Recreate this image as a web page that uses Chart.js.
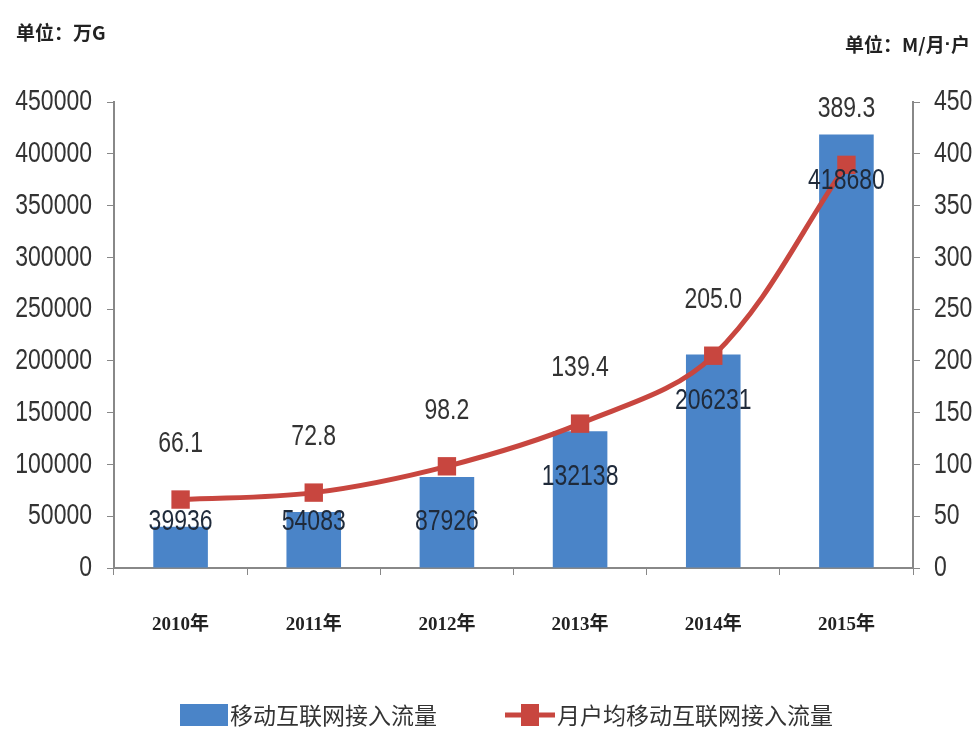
<!DOCTYPE html>
<html>
<head>
<meta charset="utf-8">
<script src="https://cdn.jsdelivr.net/npm/chart.js@4.4.0/dist/chart.umd.min.js"></script>
<style>
  html, body { margin: 0; padding: 0; background: #fff; }
  #wrap { width: 975px; height: 734px; }
</style>
</head>
<body>
<div id="wrap"><canvas id="chart" width="975" height="734"></canvas></div>
<script>
const years = ["2010年", "2011年", "2012年", "2013年", "2014年", "2015年"];
const traffic = [39936, 54083, 87926, 132138, 206231, 418680];
const perUser = [66.1, 72.8, 98.2, 139.4, 205.0, 389.3];
const leftTicks = [0, 50000, 100000, 150000, 200000, 250000, 300000, 350000, 400000, 450000];
const rightTicks = [0, 50, 100, 150, 200, 250, 300, 350, 400, 450];

const barColor = "#4A84C8";
const lineColor = "#C8463F";
const numFont = "23px 'Liberation Sans', sans-serif";
const cjkFont = "'Noto Sans CJK SC', sans-serif";

// narrow-looking numbers: draw with a vertical stretch
function tallText(ctx, text, x, y) {
  ctx.save();
  ctx.translate(x, y);
  ctx.scale(1, 1.3);
  ctx.fillText(text, 0, 0);
  ctx.restore();
}

// unit captions, tick labels, value labels and the legend
const extras = {
  id: "extras",
  afterDraw(chart) {
    const ctx = chart.ctx;
    const y = chart.scales.y;
    const y1 = chart.scales.y1;
    ctx.save();
    ctx.fillStyle = "#222";
    ctx.font = "bold 19px " + cjkFont;
    ctx.textBaseline = "middle";
    ctx.textAlign = "left";
    ctx.fillText("单位：万G", 16, 33);
    // right caption, the middle dot in a latin font so it stays small
    ctx.textAlign = "right";
    ctx.fillText("户", 970, 45);
    let w = ctx.measureText("户").width;
    ctx.font = "bold 19px 'Liberation Sans', sans-serif";
    ctx.fillText("·", 970 - w, 45);
    w += ctx.measureText("·").width;
    ctx.font = "bold 19px " + cjkFont;
    ctx.fillText("单位：M/月", 970 - w, 45);

    // axis tick labels
    ctx.font = numFont;
    ctx.fillStyle = "#333";
    ctx.textAlign = "right";
    y.ticks.forEach(t => tallText(ctx, String(t.value), 92, y.getPixelForValue(t.value)));
    ctx.textAlign = "left";
    y1.ticks.forEach(t => tallText(ctx, String(t.value), 934, y1.getPixelForValue(t.value)));

    // bar labels, inside end
    ctx.textAlign = "center";
    ctx.fillStyle = "#1f2a3a";
    const bars = chart.getDatasetMeta(1).data;
    const floorY = y.getPixelForValue(45000);
    bars.forEach((b, i) => {
      tallText(ctx, String(traffic[i]), b.x, Math.min(b.y + 46, floorY));
    });

    // line labels, above
    ctx.fillStyle = "#333";
    const pts = chart.getDatasetMeta(0).data;
    pts.forEach((p, i) => {
      tallText(ctx, perUser[i].toFixed(1), p.x, p.y - 56);
    });

    // legend
    const ly = 715;
    ctx.fillStyle = barColor;
    ctx.fillRect(180, ly - 11, 48, 22);
    ctx.strokeStyle = lineColor;
    ctx.lineWidth = 5;
    ctx.beginPath();
    ctx.moveTo(505, ly);
    ctx.lineTo(555, ly);
    ctx.stroke();
    ctx.fillStyle = lineColor;
    ctx.fillRect(521, ly - 11, 18, 22);
    ctx.fillStyle = "#333";
    ctx.font = "23px " + cjkFont;
    ctx.textAlign = "left";
    ctx.fillText(chart.data.datasets[1].label, 230, ly);
    ctx.fillText(chart.data.datasets[0].label, 557, ly);
    ctx.restore();
  }
};

new Chart(document.getElementById("chart"), {
  type: "bar",
  data: {
    labels: years,
    datasets: [
      {
        type: "line",
        label: "月户均移动互联网接入流量",
        data: perUser,
        yAxisID: "y1",
        borderColor: lineColor,
        backgroundColor: lineColor,
        borderWidth: 5,
        tension: 0.35,
        pointStyle: "rect",
        pointRadius: 13,
        pointBackgroundColor: lineColor,
        pointBorderWidth: 0,
        order: 0
      },
      {
        label: "移动互联网接入流量",
        data: traffic,
        yAxisID: "y",
        backgroundColor: barColor,
        categoryPercentage: 1,
        barPercentage: 0.41,
        order: 1
      }
    ]
  },
  options: {
    responsive: false,
    animation: false,
    layout: { padding: { top: 102, left: 0, right: 0, bottom: 0 } },
    plugins: { legend: { display: false }, tooltip: { enabled: false } },
    scales: {
      x: {
        afterFit(s) { s.height = 166; },
        grid: { display: true, drawOnChartArea: false, offset: true, tickLength: 7, color: "#888" },
        border: { color: "#888", width: 2 },
        ticks: { padding: 39, color: "#222", font: { family: "'Liberation Serif', " + cjkFont, size: 19, weight: "bold" } }
      },
      y: {
        position: "left",
        min: 0, max: 450000,
        afterFit(s) { s.width = 114; },
        afterBuildTicks(s) { s.ticks = leftTicks.map(v => ({ value: v })); },
        grid: { display: true, drawOnChartArea: false, tickLength: 7, color: "#888" },
        border: { color: "#888", width: 2 },
        ticks: { display: false }
      },
      y1: {
        position: "right",
        min: 0, max: 450,
        afterFit(s) { s.width = 62; },
        afterBuildTicks(s) { s.ticks = rightTicks.map(v => ({ value: v })); },
        grid: { display: true, drawOnChartArea: false, tickLength: 7, color: "#888" },
        border: { color: "#888", width: 2 },
        ticks: { display: false }
      }
    }
  },
  plugins: [extras]
});
</script>
</body>
</html>
